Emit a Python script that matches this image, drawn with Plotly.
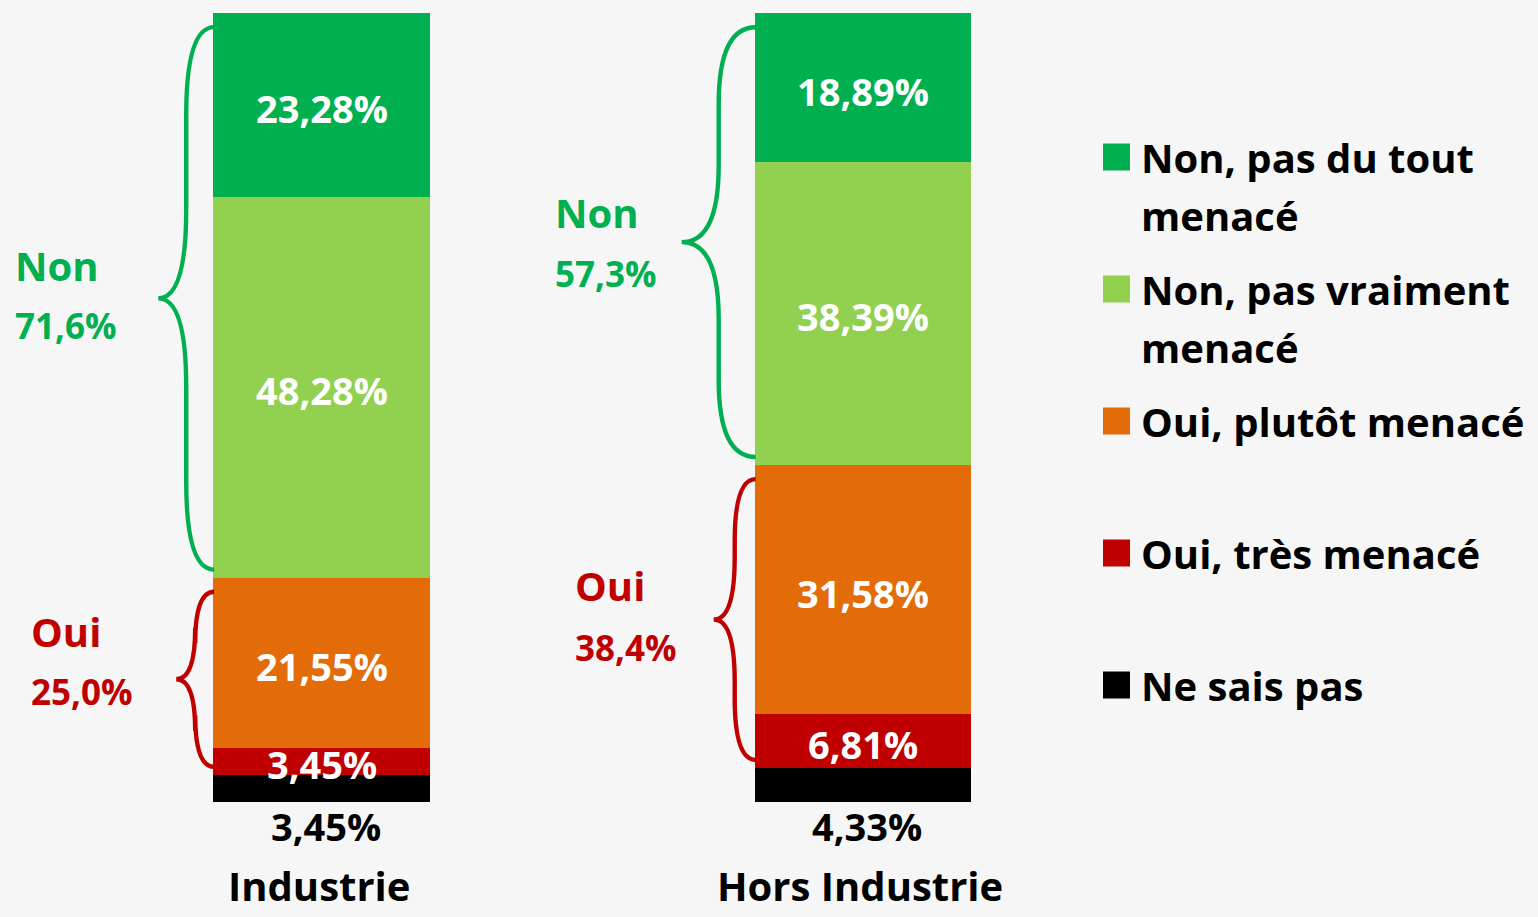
import plotly.graph_objects as go

# ---------------- data ----------------
categories = ["Industrie", "Hors Industrie"]
series_names = ["Non, pas du tout menacé", "Non, pas vraiment menacé",
                "Oui, plutôt menacé", "Oui, très menacé", "Ne sais pas"]
legend_lines = [["Non, pas du tout", "menacé"], ["Non, pas vraiment", "menacé"],
                ["Oui, plutôt menacé"], ["Oui, très menacé"], ["Ne sais pas"]]
non_pas_du_tout = [23.28, 18.89]
non_pas_vraiment = [48.28, 38.39]
oui_plutot = [21.55, 31.58]
oui_tres = [3.45, 6.81]
ne_sais_pas = [3.45, 4.33]
group_names = ["Non", "Oui"]

colors = ["#00B050", "#92D050", "#E36C09", "#C00000", "#000000"]
group_colors = ["#00B050", "#C00000"]
series = [non_pas_du_tout, non_pas_vraiment, oui_plutot, oui_tres, ne_sais_pas]

# ---------------- geometry helpers (pixel -> data) ----------------
W, H = 1538, 917
X0, XS = 321.5, 541.5          # pixel of x=0, pixels per x unit
YB, YSCALE = 802, 7.89         # pixel of y=0, pixels per y unit


def px2x(p):
    return (p - X0) / XS


def px2y(p):
    return (YB - p) / YSCALE


def dx(p):
    return p / XS


def dy(p):
    return p / YSCALE


def fr(v, nd):
    return f"{v:.{nd}f}".replace(".", ",") + "%"


xpos = [0, 1]
bar_w = 0.4
FONT = "Open Sans"

fig = go.Figure()
for k in reversed(range(len(series))):
    fig.add_trace(go.Bar(x=xpos, y=series[k], name=series_names[k],
                         marker=dict(color=colors[k], line=dict(width=0)),
                         width=bar_w, hoverinfo="skip", showlegend=False))

annotations = []
shapes = []

# segment labels
for i in range(len(categories)):
    cum = 0.0
    for k in reversed(range(len(series))):
        v = series[k][i]
        mid = cum + v / 2
        if k == 4:
            annotations.append(dict(x=xpos[i], y=px2y(826) / 100, yref="paper", yanchor="middle",
                                    text=fr(v, 2), showarrow=False, xshift=4,
                                    font=dict(family=FONT, size=38, color="#000000", weight="bold")))
        else:
            annotations.append(dict(x=xpos[i], y=mid, text=fr(v, 2), showarrow=False, yshift=-3,
                                    font=dict(family=FONT, size=38, color="#FFFFFF", weight="bold")))
        cum += v
    # category label
    annotations.append(dict(x=xpos[i], y=px2y(885) / 100, yref="paper", yanchor="middle",
                            text=categories[i], showarrow=False, xshift=-3,
                            font=dict(family=FONT, size=40, color="#000000", weight="bold")))

# braces
depths = [[56, 38], [74, 42]]
label_left = [[13, 29], [553, 573]]
label_off = [[(-33, 27), (-48, 12)], [(-30, 31), (-34, 28)]]
for i in range(len(categories)):
    tot = sum(s[i] for s in series)
    groups = [(tot, tot - non_pas_du_tout[i] - non_pas_vraiment[i],
               non_pas_du_tout[i] + non_pas_vraiment[i]),
              (oui_plutot[i] + oui_tres[i] + ne_sais_pas[i], ne_sais_pas[i],
               oui_plutot[i] + oui_tres[i])]
    xe = xpos[i] - bar_w / 2 + dx(1)
    for g, (top, bot, gsum) in enumerate(groups):
        yt = top - 1.8
        yb = bot + 1.0
        ym = (yt + yb) / 2
        d = depths[i][g]
        xs = xe - dx(d / 2)
        xt = xe - dx(d)
        half_px = (yt - yb) * YSCALE / 2
        r = dy(34 + 0.2 * half_px)
        path = (f"M {xe},{yt} Q {xs},{yt} {xs},{yt - r} L {xs},{ym + r} "
                f"Q {xs},{ym} {xt},{ym} Q {xs},{ym} {xs},{ym - r} "
                f"L {xs},{yb + r} Q {xs},{yb} {xe},{yb}")
        shapes.append(dict(type="path", path=path, xref="x", yref="y",
                           line=dict(color=group_colors[g], width=4.4)))
        ymp = YB - ym * YSCALE
        o1, o2 = label_off[i][g]
        annotations.append(dict(x=px2x(label_left[i][g]), y=px2y(ymp + o1), text=group_names[g],
                                showarrow=False, xanchor="left",
                                font=dict(family=FONT, size=40, color=group_colors[g], weight="bold")))
        annotations.append(dict(x=px2x(label_left[i][g]), y=px2y(ymp + o2), text=fr(gsum, 1),
                                showarrow=False, xanchor="left",
                                font=dict(family=FONT, size=35, color=group_colors[g], weight="bold")))

# legend (manual)
leg_y = [157, 289, 421, 553, 685]
for k, lines in enumerate(legend_lines):
    shapes.append(dict(type="rect", xref="x", yref="y",
                       x0=px2x(1103), x1=px2x(1130),
                       y0=px2y(leg_y[k] - 13.5), y1=px2y(leg_y[k] + 13.5),
                       fillcolor=colors[k], line=dict(width=0)))
    for j, ln in enumerate(lines):
        annotations.append(dict(x=px2x(1139), y=px2y(leg_y[k] + 58 * j), text=ln,
                                showarrow=False, xanchor="left",
                                font=dict(family=FONT, size=40, color="#000000", weight="bold")))

fig.update_layout(
    barmode="stack",
    width=W, height=H,
    margin=dict(l=0, r=0, t=13, b=H - YB),
    paper_bgcolor="#F6F6F6", plot_bgcolor="#F6F6F6",
    xaxis=dict(range=[px2x(0), px2x(W)], visible=False, fixedrange=True),
    yaxis=dict(range=[0, 100], visible=False, fixedrange=True),
    showlegend=False,
    annotations=annotations,
    shapes=shapes,
    bargap=0,
)

fig.write_html("out.html", config={"displayModeBar": False},
               post_script="document.body.style.margin='0';document.body.style.overflow='hidden';")
